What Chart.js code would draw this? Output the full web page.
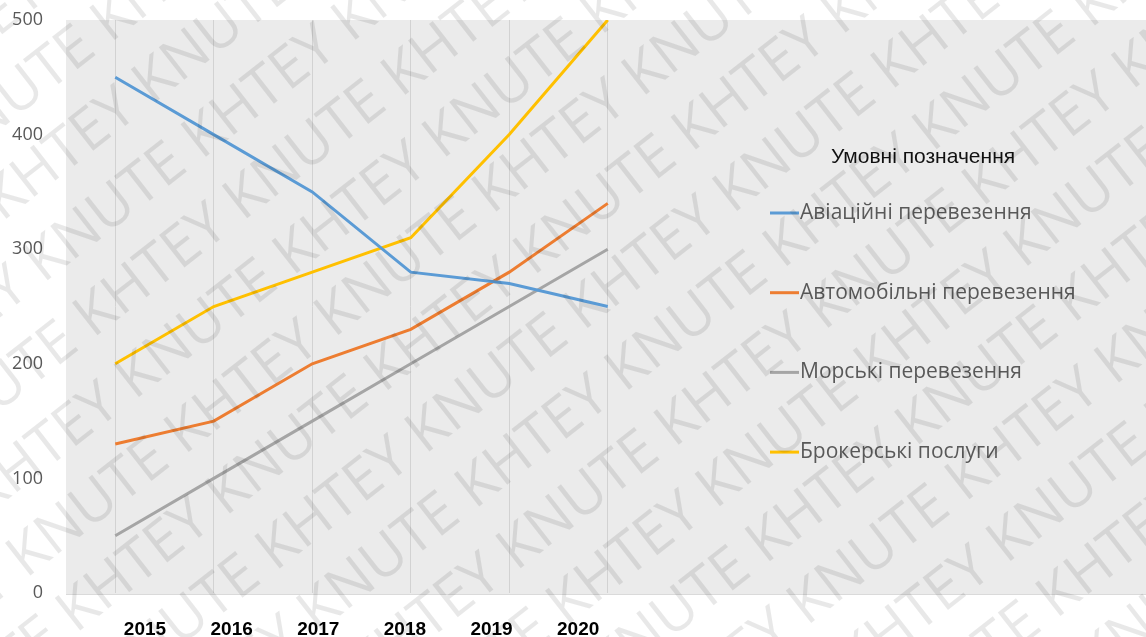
<!DOCTYPE html>
<html>
<head>
<meta charset="utf-8">
<script src="https://cdn.jsdelivr.net/npm/chart.js@4.4.1/dist/chart.umd.min.js"></script>
<style>
  html, body { margin: 0; padding: 0; background: #fff; }
  #wrap { width: 1146px; height: 637px; }
</style>
</head>
<body>
<div id="wrap"><canvas id="transportChart" width="1146" height="637"></canvas></div>
<script>
// Data
const years = ['2015', '2016', '2017', '2018', '2019', '2020'];
const aviationValues = [450, 400, 350, 280, 270, 250];
const roadValues = [130, 150, 200, 230, 280, 340];
const seaValues = [50, 100, 150, 200, 250, 300];
const brokerValues = [200, 250, 280, 310, 400, 500];
const seriesNames = ['Авіаційні перевезення', 'Автомобільні перевезення', 'Морські перевезення', 'Брокерські послуги'];
const seriesColors = ['#5b9bd5', '#ed7d31', '#a5a5a5', '#ffc000'];
const legendTitle = 'Умовні позначення';
const watermarkText = 'KHTEY KNUTE ';

// gray panel behind the plot, stretched to the right edge
const panelPlugin = {
    id: 'panel',
    beforeDraw(chart) {
        const { ctx, chartArea, width } = chart;
        ctx.save();
        ctx.fillStyle = '#ebebeb';
        ctx.fillRect(chartArea.left, chartArea.top, width - chartArea.left, chartArea.bottom - chartArea.top + 2);
        ctx.strokeStyle = '#dadada';
        ctx.lineWidth = 1;
        ctx.beginPath();
        ctx.moveTo(chartArea.left, chartArea.bottom + 1.5);
        ctx.lineTo(width, chartArea.bottom + 1.5);
        ctx.stroke();
        ctx.restore();
    }
};

// legend drawn inside the panel, on the right
const sideLegendPlugin = {
    id: 'sideLegend',
    afterDatasetsDraw(chart) {
        const { ctx } = chart;
        ctx.save();
        ctx.fillStyle = '#111';
        ctx.font = '21px "Liberation Sans", Arial, sans-serif';
        ctx.textAlign = 'center';
        ctx.textBaseline = 'middle';
        ctx.fillText(legendTitle, 923, 157);

        ctx.textAlign = 'left';
        ctx.font = '21px "Open Sans", sans-serif';
        chart.data.datasets.forEach((ds, i) => {
            const y = 213 + i * 79.7;
            ctx.strokeStyle = ds.borderColor;
            ctx.lineWidth = 3;
            ctx.beginPath();
            ctx.moveTo(770, y);
            ctx.lineTo(799, y);
            ctx.stroke();
            ctx.fillStyle = '#595959';
            ctx.fillText(ds.label, 800, y);
        });
        ctx.restore();
    }
};

// diagonal watermark over the whole picture
const watermarkPlugin = {
    id: 'watermark',
    afterDraw(chart) {
        const { ctx, width, height } = chart;
        ctx.save();
        ctx.fillStyle = 'rgba(0, 0, 0, 0.09)';
        ctx.font = '58px "Open Sans", sans-serif';
        ctx.textBaseline = 'middle';
        ctx.translate(width / 2, height / 2);
        ctx.rotate(-38 * Math.PI / 180);
        const line = watermarkText.repeat(12);
        const lineWidth = ctx.measureText(watermarkText).width;
        for (let row = -12; row <= 12; row++) {
            const shift = (row % 2 === 0) ? 0 : lineWidth / 2;
            ctx.fillText(line, -lineWidth * 6 + shift, row * 74);
        }
        ctx.restore();
    }
};

const chartContext = document.getElementById('transportChart').getContext('2d');

const transportChart = new Chart(chartContext, {
    type: 'line',
    data: {
        labels: years,
        datasets: [aviationValues, roadValues, seaValues, brokerValues].map((values, i) => ({
            label: seriesNames[i],
            data: values,
            borderColor: seriesColors[i],
            backgroundColor: seriesColors[i],
            borderWidth: 3,
            pointRadius: 0,
            tension: 0,
            fill: false,
            xAxisID: 'x',
            yAxisID: 'y'
        }))
    },
    options: {
        responsive: false,
        animation: false,
        layout: { padding: { top: 20, right: 489, left: 0, bottom: 0 } },
        plugins: {
            legend: { display: false },
            tooltip: { enabled: false }
        },
        scales: {
            x: {
                type: 'category',
                offset: true,
                grid: { color: '#d2d2d2', lineWidth: 1, drawTicks: false, offset: false },
                border: { display: false },
                ticks: { display: false },
                afterFit: scale => { scale.height = 0; scale.paddingLeft = 0; scale.paddingRight = 0; }
            },
            x2: {
                type: 'linear',
                position: 'bottom',
                min: -0.912,
                max: 5.91,
                grid: { display: false, drawTicks: false },
                border: { display: false },
                afterBuildTicks: scale => { scale.ticks = years.map((y, i) => ({ value: i })); },
                ticks: {
                    autoSkip: false,
                    maxRotation: 0,
                    padding: 25,
                    color: '#000',
                    font: { family: '"Liberation Sans", Arial, sans-serif', size: 19, weight: 'bold' },
                    callback: value => years[value]
                },
                afterFit: scale => { scale.height = 44; scale.paddingLeft = 0; scale.paddingRight = 0; }
            },
            y: {
                min: 0,
                max: 500,
                grid: { display: false, drawTicks: false },
                border: { display: false },
                ticks: {
                    stepSize: 100,
                    padding: 23,
                    color: '#595959',
                    font: { family: '"Open Sans", sans-serif', size: 18 }
                },
                afterFit: scale => { scale.width = 66; scale.paddingTop = 0; scale.paddingBottom = 0; }
            }
        }
    },
    plugins: [panelPlugin, sideLegendPlugin, watermarkPlugin]
});
</script>
</body>
</html>
